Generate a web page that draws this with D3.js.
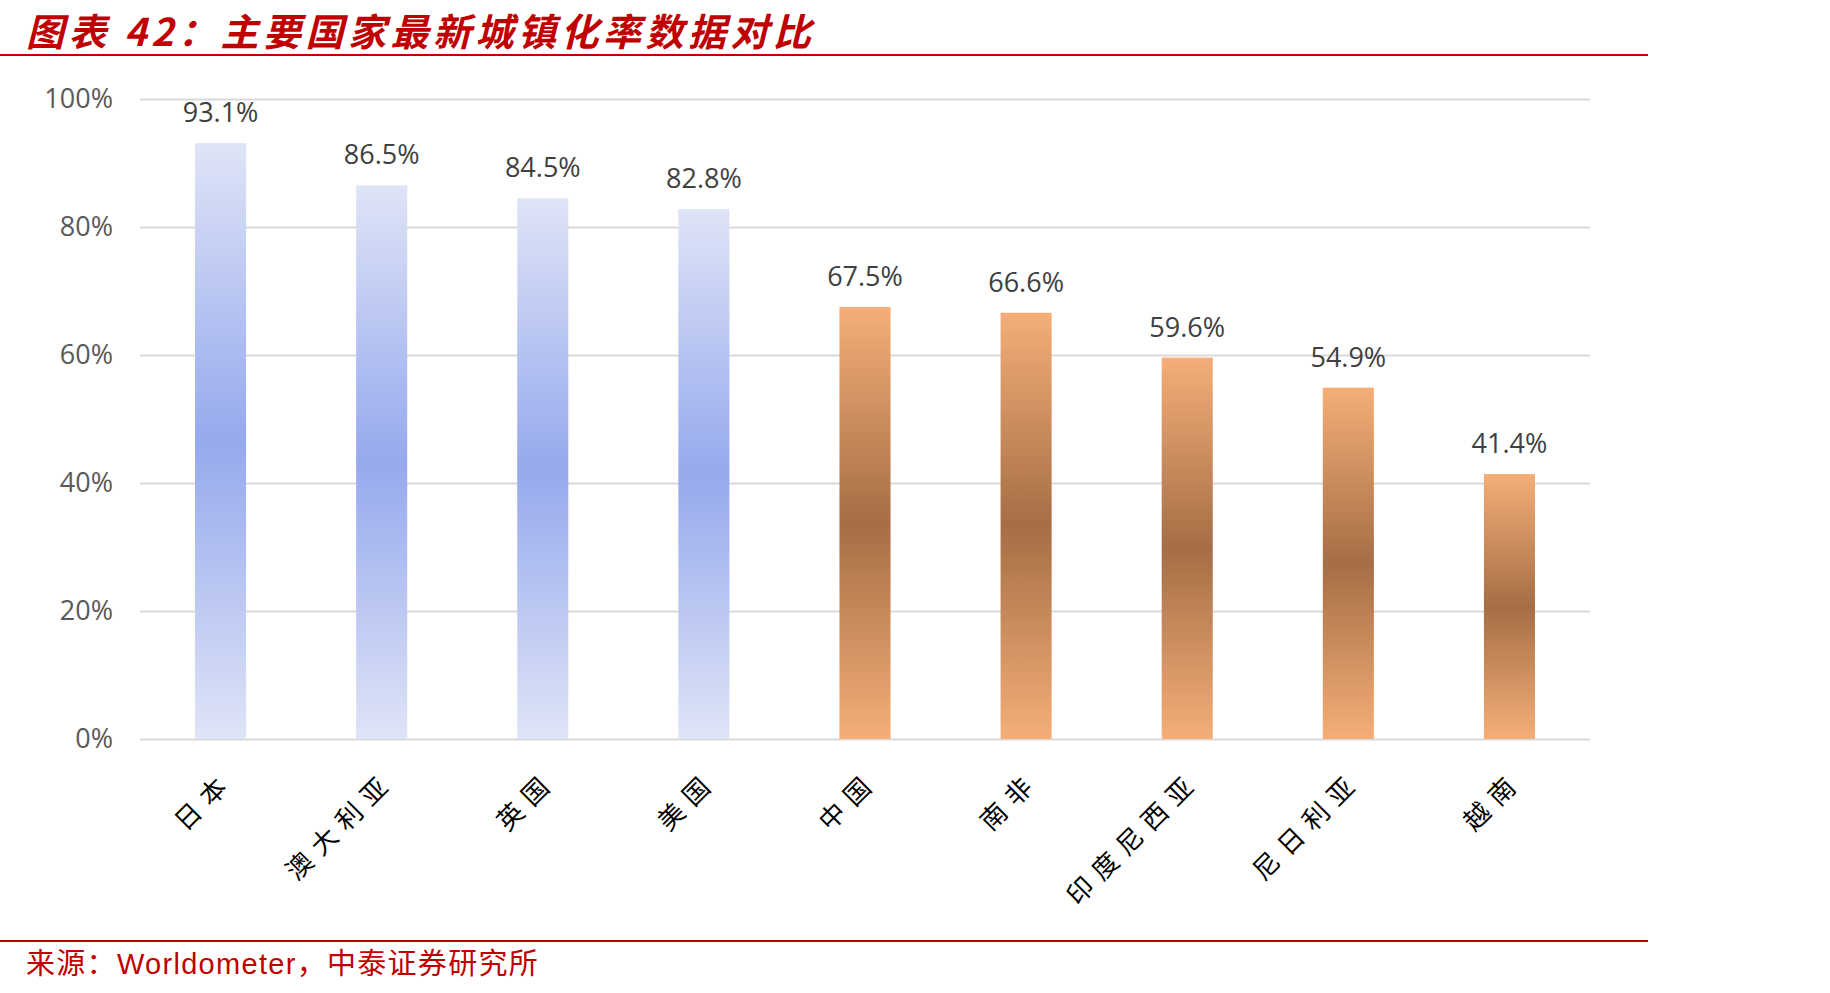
<!DOCTYPE html>
<html>
<head>
<meta charset="utf-8">
<script src="https://cdn.jsdelivr.net/npm/d3@7"></script>
<style>
  html, body { margin: 0; padding: 0; background: #ffffff; }
  svg { display: block; }
</style>
</head>
<body>
<svg id="chart" width="1830" height="993"></svg>
<script>
// ---- data ----
const categories = ["日本", "澳大利亚", "英国", "美国", "中国", "南非", "印度尼西亚", "尼日利亚", "越南"];
const values = [93.1, 86.5, 84.5, 82.8, 67.5, 66.6, 59.6, 54.9, 41.4];
const groups = ["developed", "developed", "developed", "developed", "developing", "developing", "developing", "developing", "developing"];
const yTicks = [0, 20, 40, 60, 80, 100];
const titleText = "图表 42：主要国家最新城镇化率数据对比";
const sourceText = "来源：Worldometer，中泰证券研究所";

(function () {
const svg = d3.select("#chart");
const red = "#c00000";

// gradients
const defs = svg.append("defs");
function makeGrad(id, edge, mid) {
  const g = defs.append("linearGradient").attr("id", id)
    .attr("x1", 0).attr("y1", 0).attr("x2", 0).attr("y2", 1);
  g.append("stop").attr("offset", "0%").attr("stop-color", edge);
  g.append("stop").attr("offset", "50%").attr("stop-color", mid);
  g.append("stop").attr("offset", "100%").attr("stop-color", edge);
}
makeGrad("grad-developed", "#dfe4f7", "#95a9ed");
makeGrad("grad-developing", "#f5ae77", "#a56e46");

// title
svg.append("text")
  .attr("x", 26).attr("y", 46)
  .attr("font-family", "'Noto Sans CJK SC', sans-serif")
  .attr("font-weight", "bold")
  .attr("font-style", "italic")
  .attr("font-size", 38)
  .attr("letter-spacing", 4.5)
  .attr("fill", red)
  .text(titleText);

svg.append("line")
  .attr("x1", 0).attr("x2", 1648).attr("y1", 55).attr("y2", 55)
  .attr("stroke", red).attr("stroke-width", 2);

// footer
svg.append("line")
  .attr("x1", 0).attr("x2", 1648).attr("y1", 941).attr("y2", 941)
  .attr("stroke", red).attr("stroke-width", 2);

svg.append("text")
  .attr("x", 26).attr("y", 974)
  .attr("font-family", "'Liberation Sans', 'Noto Sans CJK SC', sans-serif")
  .attr("font-size", 29)
  .attr("letter-spacing", 1.3)
  .attr("fill", red)
  .text(sourceText);

// scales
const plotLeft = 140, plotRight = 1590, plotTop = 99, plotBottom = 739;
const x = d3.scaleBand().domain(categories).range([plotLeft, plotRight])
  .paddingInner(0.683).paddingOuter(0.3415);
const y = d3.scaleLinear().domain([0, 100]).range([plotBottom, plotTop]);

// y axis with gridlines
const yAxis = d3.axisLeft(y)
  .tickValues(yTicks)
  .tickFormat(d => d + "%")
  .tickSize(-(plotRight - plotLeft))
  .tickPadding(27);

const gy = svg.append("g").attr("transform", `translate(${plotLeft},0)`).call(yAxis);
gy.select(".domain").remove();
gy.selectAll(".tick line").attr("stroke", "#d9d9d9").attr("stroke-width", 2);
gy.selectAll(".tick text")
  .attr("font-family", "'Open Sans', sans-serif")
  .attr("font-size", 27)
  .attr("fill", "#595959");

// bars
svg.append("g").selectAll("rect")
  .data(categories)
  .join("rect")
  .attr("x", d => x(d))
  .attr("width", x.bandwidth())
  .attr("y", (d, i) => y(values[i]))
  .attr("height", (d, i) => y(0) - y(values[i]))
  .attr("fill", (d, i) => `url(#grad-${groups[i]})`);

// data labels
svg.append("g").selectAll("text")
  .data(categories)
  .join("text")
  .attr("x", d => x(d) + x.bandwidth() / 2)
  .attr("y", (d, i) => y(values[i]) - 21)
  .attr("text-anchor", "middle")
  .attr("font-family", "'Open Sans', sans-serif")
  .attr("font-size", 27)
  .attr("fill", "#404040")
  .text((d, i) => values[i].toFixed(1) + "%");

// x axis labels (rotated)
const ls = 9;
const xAxis = d3.axisBottom(x).tickSize(0).tickPadding(0);
const gx = svg.append("g").attr("transform", `translate(0,${plotBottom})`).call(xAxis);
gx.select(".domain").remove();
gx.selectAll(".tick text")
  .attr("font-family", "'Noto Sans CJK SC', sans-serif")
  .attr("font-size", 26)
  .attr("letter-spacing", ls)
  .attr("fill", "#000000")
  .attr("text-anchor", "end")
  .attr("y", 0)
  .attr("dy", 0)
  .attr("dx", ls)
  .attr("transform", "translate(8,50) rotate(-45)");
})();
</script>
</body>
</html>
